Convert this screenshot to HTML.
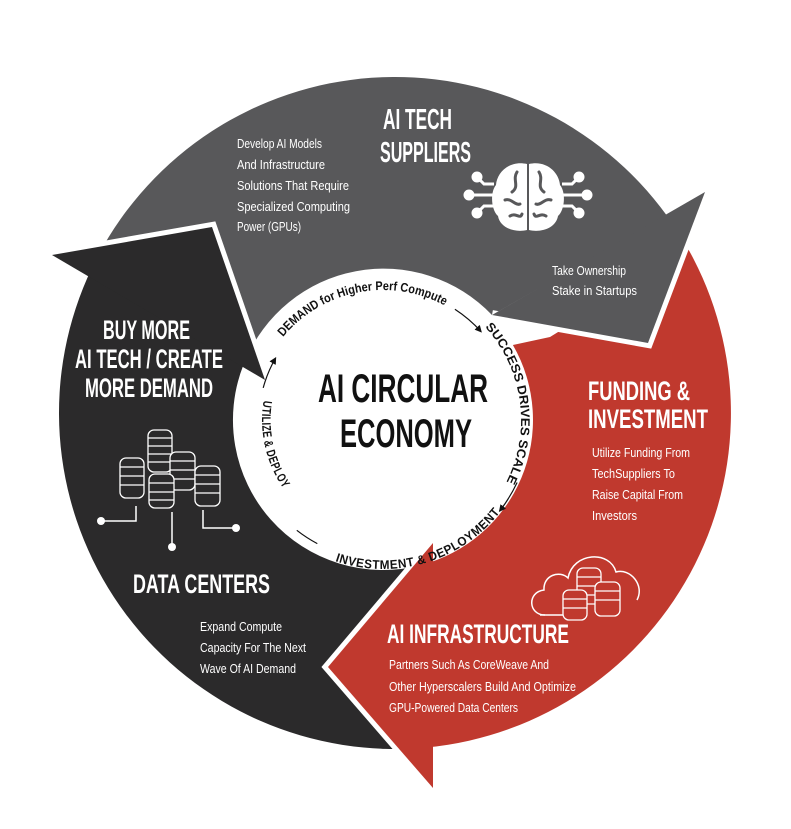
<!DOCTYPE html>
<html><head><meta charset="utf-8"><style>
html,body{margin:0;padding:0;background:#fff;}
svg{display:block;}
.h{font-family:"Liberation Sans",sans-serif;font-weight:bold;fill:#fff;}
.b{font-family:"Liberation Sans",sans-serif;fill:#fff;font-size:13px;}
.c{font-family:"Liberation Sans",sans-serif;font-weight:bold;fill:#111;font-size:12.5px;}
</style></head><body>
<svg width="791" height="829" viewBox="0 0 791 829" xmlns="http://www.w3.org/2000/svg">
<defs>
<marker id="ar" markerWidth="6" markerHeight="6" refX="5" refY="3" orient="auto"><path d="M0,0 L6,3 L0,6 Z" fill="#111"/></marker>
<path id="pTop" d="M 280.6 340 A 130 130 0 0 1 448 307.4"/>
<path id="pRight" d="M 482.3 324.1 A 138 138 0 0 1 502.5 489"/>
<path id="pBot" d="M 330.6 549.8 A 140 140 0 0 0 496.3 502.3"/>
<path id="pLeft" d="M 272.7 400.6 A 112 112 0 0 0 291.3 484.2"/>
</defs>
<rect width="791" height="829" fill="#fff"/>
<!-- bands -->
<path d="M 98.3 255.2 A 336 336 0 0 1 666.8 215.5 L 492 315 A 150 150 0 0 0 244.9 361.4 Z" fill="#58585a"/>
<path d="M 683 240 A 336 336 0 0 1 427.2 747.4 L 420.6 565.2 A 150 150 0 0 0 512.9 345 L 550 337 L 610 300 Z" fill="#c0392e"/>
<path d="M 406.7 748.8 A 336 336 0 0 1 91.7 268.4 L 243.4 365 A 150 150 0 0 0 420.6 565.2 Z" fill="#2b2a2b"/>
<!-- heads -->
<path d="M 705 192 L 648 343 L 492 315" fill="none" stroke="#fff" stroke-width="10" stroke-linejoin="miter"/>
<path d="M 705 192 L 648 343 L 492 315 Z" fill="#58585a"/>
<path d="M 433 788 L 328 667 L 433 543" fill="none" stroke="#fff" stroke-width="10" stroke-linejoin="miter"/>
<path d="M 433 788 L 328 667 L 433 543 Z" fill="#c0392e"/>
<path d="M 52 255 L 212 227 L 265 380" fill="none" stroke="#fff" stroke-width="10" stroke-linejoin="miter"/>
<path d="M 52 255 L 212 227 L 265 380 Z" fill="#2b2a2b"/>

<!-- inner circle text -->
<text class="c"><textPath href="#pTop" startOffset="4" textLength="178" lengthAdjust="spacingAndGlyphs">DEMAND for Higher Perf Compute</textPath></text>
<text class="c"><textPath href="#pRight" startOffset="4" textLength="166" lengthAdjust="spacingAndGlyphs">SUCCESS DRIVES SCALE</textPath></text>
<text class="c" dominant-baseline="hanging"><textPath href="#pBot" startOffset="8" textLength="172" lengthAdjust="spacingAndGlyphs">INVESTMENT &amp; DEPLOYMENT</textPath></text>
<text class="c" dominant-baseline="hanging"><textPath href="#pLeft" startOffset="1" textLength="86" lengthAdjust="spacingAndGlyphs">UTILIZE &amp; DEPLOY</textPath></text>
<g fill="none" stroke="#111" stroke-width="1.2">
<path d="M 454.9 309.3 A 132 132 0 0 1 481.1 331.7" marker-end="url(#ar)"/>
<path d="M 517.1 482.5 A 148 148 0 0 1 499.6 511.1" marker-end="url(#ar)"/>
<path d="M 317.3 543.6 A 140 140 0 0 1 296.8 530.3"/>
<path d="M 263.2 387.9 A 124 124 0 0 1 275.6 358" marker-end="url(#ar)"/>
</g>
<text class="h" x="403" y="402" font-size="40" text-anchor="middle" textLength="170" lengthAdjust="spacingAndGlyphs" style="fill:#111">AI CIRCULAR</text>
<text class="h" x="406" y="447" font-size="40" text-anchor="middle" textLength="132" lengthAdjust="spacingAndGlyphs" style="fill:#111">ECONOMY</text>

<!-- headings -->
<text class="h" font-size="29" x="383" y="129" textLength="69" lengthAdjust="spacingAndGlyphs">AI TECH</text>
<text class="h" font-size="29" x="380" y="162" textLength="91" lengthAdjust="spacingAndGlyphs">SUPPLIERS</text>
<text class="h" font-size="27" x="103" y="339" textLength="87" lengthAdjust="spacingAndGlyphs">BUY MORE</text>
<text class="h" font-size="27" x="75" y="368" textLength="148" lengthAdjust="spacingAndGlyphs">AI TECH / CREATE</text>
<text class="h" font-size="27" x="85" y="397" textLength="128" lengthAdjust="spacingAndGlyphs">MORE DEMAND</text>
<text class="h" font-size="27" x="588" y="400" textLength="102" lengthAdjust="spacingAndGlyphs">FUNDING &amp;</text>
<text class="h" font-size="27" x="588" y="428" textLength="120" lengthAdjust="spacingAndGlyphs">INVESTMENT</text>
<text class="h" font-size="27" x="133" y="593" textLength="137" lengthAdjust="spacingAndGlyphs">DATA CENTERS</text>
<text class="h" font-size="27" x="387" y="643" textLength="182" lengthAdjust="spacingAndGlyphs">AI INFRASTRUCTURE</text>

<!-- body -->
<g class="b">
<text x="237" y="148" textLength="85" lengthAdjust="spacingAndGlyphs">Develop AI Models</text>
<text x="237" y="169" textLength="88" lengthAdjust="spacingAndGlyphs">And Infrastructure</text>
<text x="237" y="190" textLength="112" lengthAdjust="spacingAndGlyphs">Solutions That Require</text>
<text x="237" y="211" textLength="113" lengthAdjust="spacingAndGlyphs">Specialized Computing</text>
<text x="237" y="231" textLength="64" lengthAdjust="spacingAndGlyphs">Power (GPUs)</text>
<text x="552" y="275" textLength="74" lengthAdjust="spacingAndGlyphs">Take Ownership</text>
<text x="552" y="295" textLength="85" lengthAdjust="spacingAndGlyphs">Stake in Startups</text>
<text x="592" y="457" textLength="98" lengthAdjust="spacingAndGlyphs">Utilize Funding From</text>
<text x="592" y="478" textLength="83" lengthAdjust="spacingAndGlyphs">TechSuppliers To</text>
<text x="592" y="499" textLength="91" lengthAdjust="spacingAndGlyphs">Raise Capital From</text>
<text x="592" y="520" textLength="45" lengthAdjust="spacingAndGlyphs">Investors</text>
<text x="200" y="631" textLength="82" lengthAdjust="spacingAndGlyphs">Expand Compute</text>
<text x="200" y="652" textLength="106" lengthAdjust="spacingAndGlyphs">Capacity For The Next</text>
<text x="200" y="673" textLength="96" lengthAdjust="spacingAndGlyphs">Wave Of AI Demand</text>
<text x="389" y="669" textLength="160" lengthAdjust="spacingAndGlyphs">Partners Such As CoreWeave And</text>
<text x="389" y="691" textLength="187" lengthAdjust="spacingAndGlyphs">Other Hyperscalers Build And Optimize</text>
<text x="389" y="712" textLength="129" lengthAdjust="spacingAndGlyphs">GPU-Powered Data Centers</text>
</g>

<!-- brain icon -->
<g>
<path d="M527 164 C510 160 497 172 496 185 C490 192 491 210 498 216 C500 228 515 233 527 230 Z" fill="#fff"/>
<path d="M529 164 C546 160 559 172 560 185 C566 192 565 210 558 216 C556 228 541 233 529 230 Z" fill="#fff"/>
<g fill="none" stroke="#58585a" stroke-width="3" stroke-linecap="round">
<path d="M517 172 C512 180 520 186 512 192"/><path d="M505 200 C512 198 515 206 520 204"/><path d="M510 216 C516 212 520 220 522 214"/>
<path d="M539 172 C544 180 536 186 544 192"/><path d="M551 200 C544 198 541 206 536 204"/><path d="M546 216 C540 212 536 220 534 214"/>
</g>
<g stroke="#fff" stroke-width="3" fill="#fff">
<line x1="470" y1="195" x2="493" y2="195"/><circle cx="469" cy="195" r="4"/>
<polyline points="478,178 484,184 494,184" fill="none"/><circle cx="477" cy="177" r="4"/>
<polyline points="478,212 484,206 494,206" fill="none"/><circle cx="477" cy="213" r="4"/>
<line x1="563" y1="195" x2="586" y2="195"/><circle cx="587" cy="195" r="4"/>
<polyline points="578,178 572,184 562,184" fill="none"/><circle cx="579" cy="177" r="4"/>
<polyline points="578,212 572,206 562,206" fill="none"/><circle cx="579" cy="213" r="4"/>
</g>
</g>

<!-- coin stacks -->
<g fill="#2b2a2b" stroke="#fff" stroke-width="1.3">
<rect x="148" y="430" width="24" height="42" rx="6"/><line x1="148" y1="438" x2="172" y2="438"/><line x1="148" y1="446" x2="172" y2="446"/><line x1="148" y1="454" x2="172" y2="454"/><line x1="148" y1="462" x2="172" y2="462"/>
<rect x="120" y="458" width="24" height="40" rx="6"/><line x1="120" y1="467" x2="144" y2="467"/><line x1="120" y1="476" x2="144" y2="476"/><line x1="120" y1="485" x2="144" y2="485"/>
<rect x="170" y="452" width="25" height="38" rx="6"/><line x1="170" y1="461" x2="195" y2="461"/><line x1="170" y1="470" x2="195" y2="470"/><line x1="170" y1="479" x2="195" y2="479"/>
<rect x="149" y="474" width="25" height="34" rx="6"/><line x1="149" y1="483" x2="174" y2="483"/><line x1="149" y1="492" x2="174" y2="492"/><line x1="149" y1="500" x2="174" y2="500"/>
<rect x="195" y="466" width="25" height="40" rx="6"/><line x1="195" y1="475" x2="220" y2="475"/><line x1="195" y1="484" x2="220" y2="484"/><line x1="195" y1="493" x2="220" y2="493"/>
</g>
<g stroke="#fff" stroke-width="1.5" fill="none">
<polyline points="101,521 136,521 136,506"/><line x1="172" y1="512" x2="172" y2="545"/><polyline points="203,510 203,528 236,528"/>
</g>
<g fill="#fff"><circle cx="101" cy="521" r="4"/><circle cx="172" cy="547" r="4"/><circle cx="236" cy="528" r="4"/></g>

<!-- cloud -->
<path d="M545 615 C528 615 527 592 544 590 C543 575 560 570 568 578 C573 552 610 550 616 572 C630 568 645 585 637 600" fill="none" stroke="#fff" stroke-width="1.5"/>
<line x1="540" y1="615" x2="565" y2="615" stroke="#fff" stroke-width="1.5"/>
<g fill="#c0392e" stroke="#fff" stroke-width="1.3">
<rect x="577" y="568" width="24" height="36" rx="6"/><line x1="577" y1="577" x2="601" y2="577"/><line x1="577" y1="586" x2="601" y2="586"/><line x1="577" y1="595" x2="601" y2="595"/>
<rect x="595" y="582" width="25" height="34" rx="6"/><line x1="595" y1="591" x2="620" y2="591"/><line x1="595" y1="600" x2="620" y2="600"/>
<rect x="563" y="590" width="24" height="30" rx="6"/><line x1="563" y1="599" x2="587" y2="599"/><line x1="563" y1="608" x2="587" y2="608"/>
</g>
</svg>
</body></html>
